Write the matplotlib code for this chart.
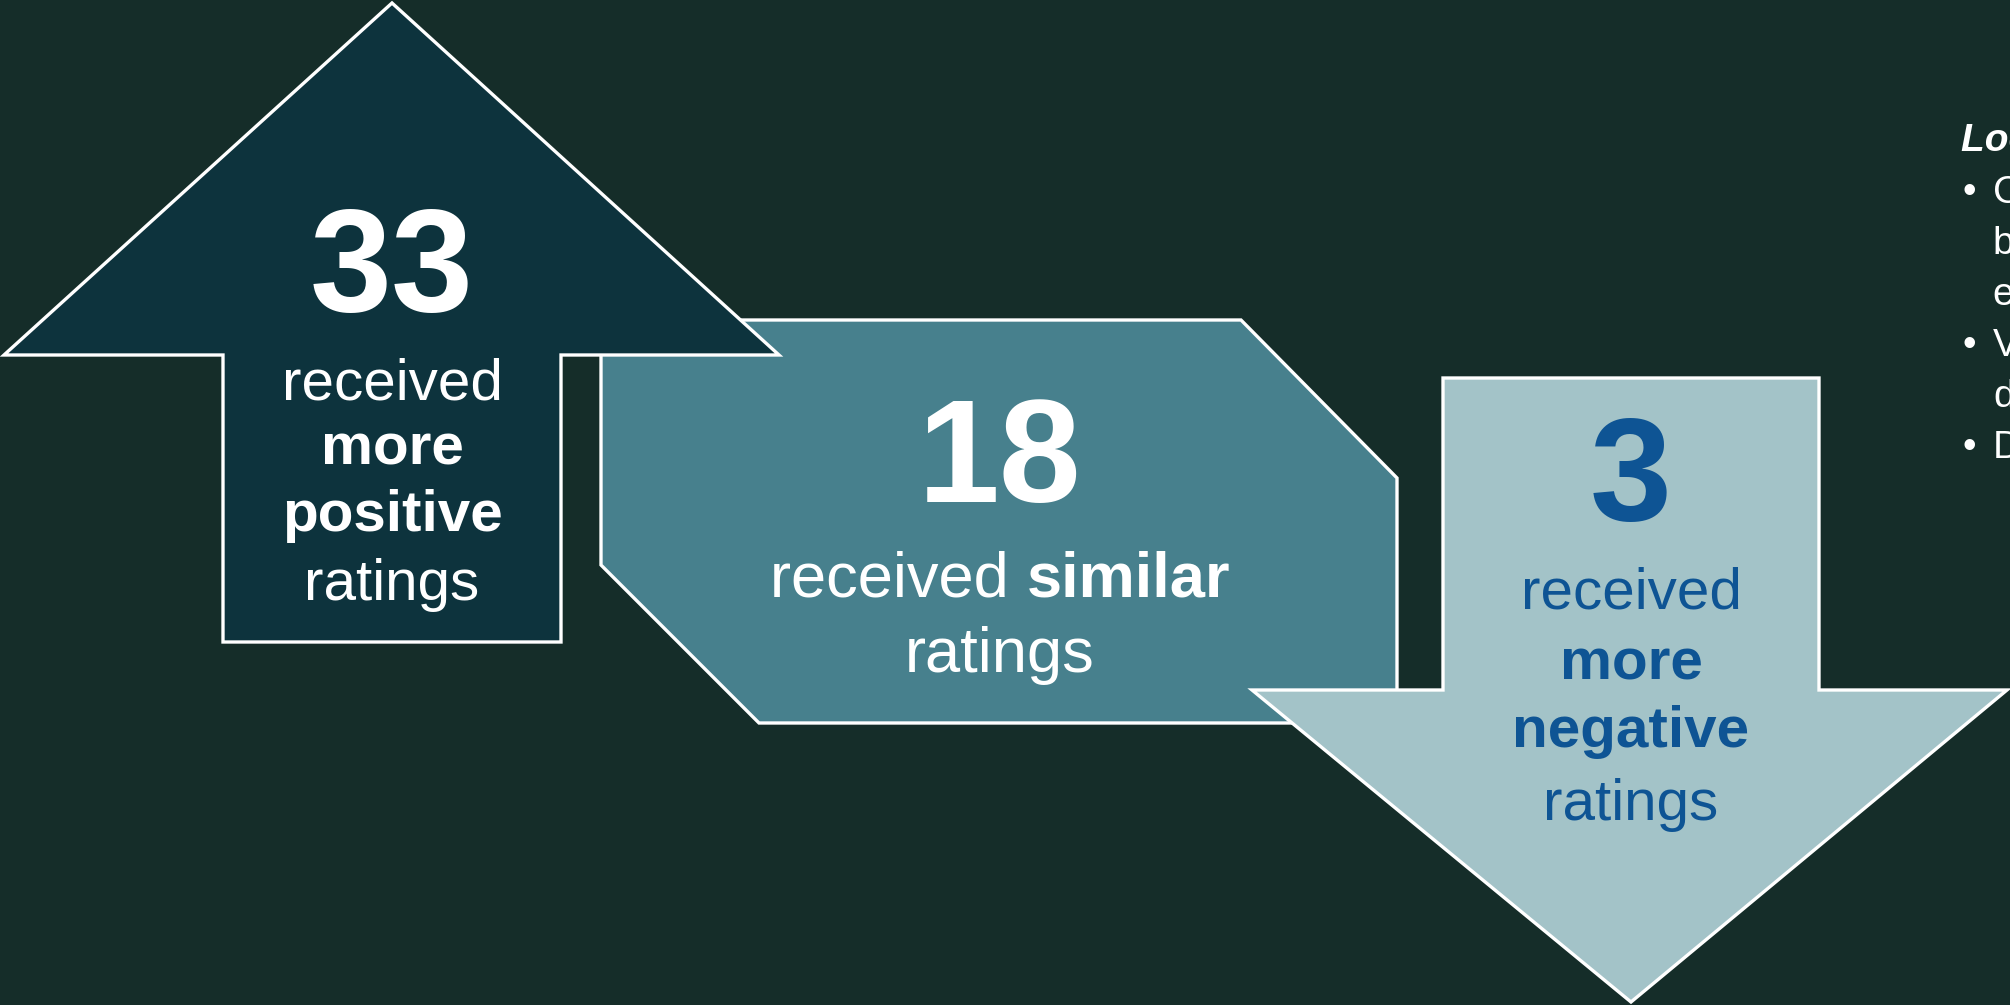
import matplotlib.pyplot as plt
from matplotlib.patches import Polygon

# data
counts = [33, 18, 3]
count_colors = ["white", "white", "#0E5494"]
up_lines = [("received", "normal"), ("more", "bold"), ("positive", "bold"), ("ratings", "normal")]
mid_lines = [[("received ", "normal"), ("similar", "bold")], [("ratings", "normal")]]
down_lines = [("received", "normal"), ("more", "bold"), ("negative", "bold"), ("ratings", "normal")]
side_title = "Looking closer"
side_bullets = [["Counts show programs", "by change in ratings", "each year"],
                ["Values reflect rating", "differences"],
                ["Data from 54 programs"]]

bg = "#152D29"
up_col = "#0D333D"
mid_col = "#47808D"
down_col = "#A3C3C8"

plt.rcParams["font.family"] = ["Liberation Sans", "DejaVu Sans"]

fig = plt.figure(figsize=(20.1, 10.05), dpi=100, facecolor=bg)
ax = fig.add_axes([0, 0, 1, 1])
ax.set_xlim(0, 2010)
ax.set_ylim(1005, 0)
ax.axis("off")
ax.set_facecolor(bg)

# shapes
up_arrow = [(392, 3), (779, 355), (561, 355), (561, 642), (223, 642), (223, 355), (4, 355)]
hexagon = [(601, 320), (1241, 320), (1397, 478), (1397, 723), (759, 723), (601, 565)]
down_arrow = [(1443, 378), (1819, 378), (1819, 690), (2007, 690), (1631, 1002), (1252, 690), (1443, 690)]

ax.add_patch(Polygon(hexagon, closed=True, fc=mid_col, ec="white", lw=2.4, zorder=1))
ax.add_patch(Polygon(up_arrow, closed=True, fc=up_col, ec="white", lw=2.4, zorder=2))
ax.add_patch(Polygon(down_arrow, closed=True, fc=down_col, ec="white", lw=2.4, zorder=2))

big = 106
body = 42

# up arrow text
ax.text(392, 311, str(counts[0]), fontsize=big, fontweight="bold", color=count_colors[0],
        ha="center", va="baseline", zorder=5)
for (s, w), yb in zip(up_lines, [399, 464, 531, 600]):
    ax.text(392, yb, s, fontsize=body, fontweight=w, color="white", ha="center", va="baseline", zorder=5)

# middle text
ax.text(1000, 502, str(counts[1]), fontsize=big, fontweight="bold", color=count_colors[1],
        ha="center", va="baseline", zorder=5)
fig.canvas.draw()
r = fig.canvas.get_renderer()
for parts, yb in zip(mid_lines, [596, 672]):
    items = []
    for s, w in parts:
        t = ax.text(0, yb, s, fontsize=45.5, fontweight=w, color="white", ha="left", va="baseline", zorder=5)
        items.append(t)
    widths = [t.get_window_extent(r).width for t in items]
    x = 1000 - sum(widths) / 2
    for t, wd in zip(items, widths):
        t.set_x(x)
        x += wd

# down arrow text
ax.text(1631, 520, str(counts[2]), fontsize=big, fontweight="bold", color=count_colors[2],
        ha="center", va="baseline", zorder=5)
for (s, w), yb in zip(down_lines, [608, 679, 747, 820]):
    ax.text(1631, yb, s, fontsize=body, fontweight=w, color="#0E5494", ha="center", va="baseline", zorder=5)

# side notes (run off the right edge, as in the original)
ax.text(1961, 151, side_title, fontsize=28, fontweight="bold", fontstyle="italic", color="white",
        ha="left", va="baseline")
yb = 203
for lines in side_bullets:
    ax.text(1962, yb, "\u2022", fontsize=28, color="white", ha="left", va="baseline")
    for ln in lines:
        ax.text(1993, yb, ln, fontsize=28, color="white", ha="left", va="baseline")
        yb += 51

fig.savefig("out.png", dpi=100, facecolor=bg)
